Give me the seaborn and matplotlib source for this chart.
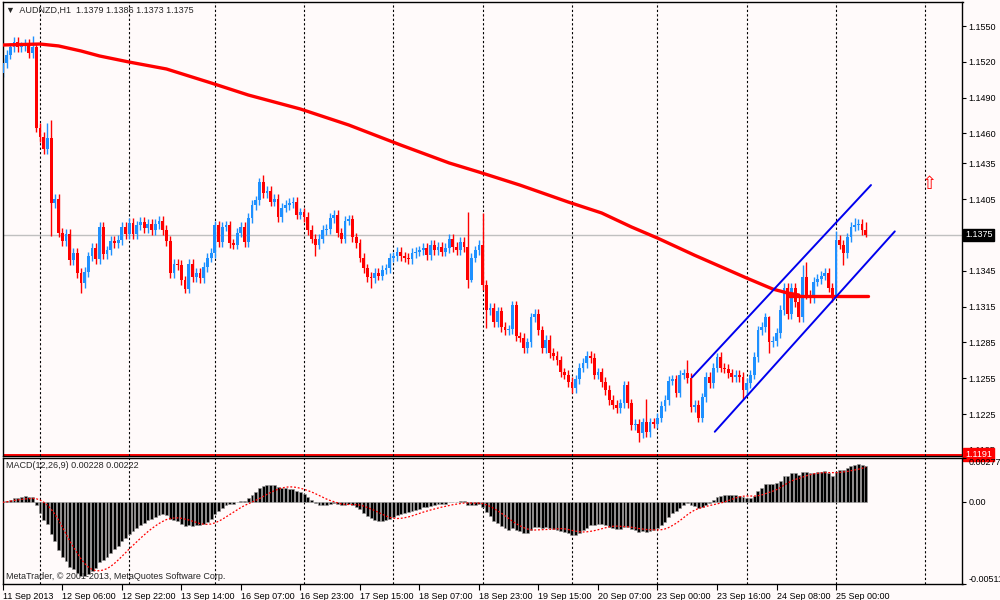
import numpy as np
import pandas as pd
import matplotlib
matplotlib.use("Agg")
import matplotlib.pyplot as plt
import matplotlib.transforms as mtransforms
import seaborn as sns

# hourly closes AUDNZD
closes = [
    1.1519, 1.1526, 1.1532, 1.1537, 1.1532, 1.1533, 1.1535, 1.1527, 1.1532, 1.1465,
    1.1457, 1.1447, 1.1456, 1.1402, 1.1405, 1.1377, 1.1370, 1.1376, 1.1354, 1.1360,
    1.1343, 1.1335, 1.1344, 1.1357, 1.1364, 1.1355, 1.1382, 1.1359, 1.1362, 1.1370,
    1.1368, 1.1371, 1.1382, 1.1376, 1.1385, 1.1376, 1.1383, 1.1386, 1.1381, 1.1384,
    1.1379, 1.1384, 1.1387, 1.1379, 1.1370, 1.1343, 1.1351, 1.1350, 1.1337, 1.1330,
    1.1351, 1.1340, 1.1343, 1.1339, 1.1348, 1.1356, 1.1360, 1.1383, 1.1369, 1.1382,
    1.1383, 1.1368, 1.1367, 1.1377, 1.1382, 1.1369, 1.1389, 1.1400, 1.1404, 1.1419,
    1.1410, 1.1412, 1.1403, 1.1405, 1.1390, 1.1398, 1.1400, 1.1402, 1.1403, 1.1392,
    1.1394, 1.1390, 1.1379, 1.1372, 1.1367, 1.1372, 1.1379, 1.1380, 1.1389, 1.1392,
    1.1377, 1.1372, 1.1387, 1.1388, 1.1373, 1.1368, 1.1356, 1.1347, 1.1340, 1.1339,
    1.1343, 1.1341, 1.1346, 1.1347, 1.1356, 1.1357, 1.1361, 1.1357, 1.1356, 1.1355,
    1.1360, 1.1361, 1.1362, 1.1364, 1.1358, 1.1367, 1.1362, 1.1365, 1.1361, 1.1364,
    1.1372, 1.1365, 1.1362, 1.1369, 1.1365, 1.1337, 1.1356, 1.1362, 1.1367, 1.1333,
    1.1312, 1.1314, 1.1302, 1.1311, 1.1298, 1.1295, 1.1296, 1.1316, 1.1290, 1.1289,
    1.1280, 1.1285, 1.1306, 1.1309, 1.1295, 1.1280, 1.1287, 1.1276, 1.1274, 1.1270,
    1.1260, 1.1258, 1.1252, 1.1247, 1.1254, 1.1264, 1.1268, 1.1274, 1.1272, 1.1258,
    1.1260, 1.1252, 1.1245, 1.1237, 1.1233, 1.1230, 1.1234, 1.1249, 1.1234, 1.1216,
    1.1217, 1.1209, 1.1218, 1.1210, 1.1218, 1.1217, 1.1222, 1.1232, 1.1237, 1.1253,
    1.1254, 1.1243, 1.1258, 1.1259, 1.1255, 1.1231, 1.1233, 1.1222, 1.1239, 1.1256,
    1.1251, 1.1264, 1.1273, 1.1264, 1.1263, 1.1259, 1.1256, 1.1258, 1.1256, 1.1245,
    1.1251, 1.1258, 1.1273, 1.1295, 1.1298, 1.1306, 1.1285, 1.1286, 1.1293, 1.1312,
    1.1331, 1.1309, 1.1331, 1.1319, 1.1306, 1.1340, 1.1325, 1.1322, 1.1336, 1.1338,
    1.1341, 1.1343, 1.1331, 1.1323, 1.1371, 1.1367, 1.1360, 1.1373, 1.1382, 1.1383,
    1.1384, 1.1379, 1.1375,
]
first_open = 1.1511
wick = 0.0004  # usual wick size where nothing special is visible
high_wicks = {8: 1.1542, 12: 1.1469, 13: 1.1471, 70: 1.1425, 125: 1.1394, 129: 1.1393,
              173: 1.1238, 184: 1.1270, 192: 1.1276, 206: 1.1307, 215: 1.1350, 216: 1.1352,
              224: 1.1378, 229: 1.1389, 232: 1.1386}
low_wicks = {13: 1.1374, 21: 1.1326, 49: 1.1326, 84: 1.1357, 99: 1.1331, 125: 1.1331,
             126: 1.1336, 130: 1.1297, 171: 1.1202, 199: 1.1238, 206: 1.1276, 224: 1.1323,
             226: 1.1350, 232: 1.1373}

# 200 period MA (red), sampled
ma_bars = [0, 10, 15, 21, 26, 34, 44, 56, 66, 80, 93, 107, 120, 128, 139, 152, 161, 169,
           176, 186, 200, 207, 211, 214]
ma_values = [1.15341, 1.15349, 1.15333, 1.15291, 1.15249, 1.15198, 1.15140, 1.15023, 1.14922,
             1.14805, 1.14671, 1.14503, 1.14353, 1.14277, 1.14168, 1.14026, 1.13934, 1.13817,
             1.13724, 1.13580, 1.13389, 1.13297, 1.13264, 1.13247]

# drawn objects
level_bars = [211, 232.5]
level_values = [1.1324, 1.1324]
upper_bars = [185.3, 233.4]
upper_values = [1.12558, 1.14168]
lower_bars = [191.4, 239.8]
lower_values = [1.12102, 1.13780]
arrow_bar, arrow_price = 249.0, 1.14175

day_bars = [10, 34, 57, 81, 105, 129, 153, 176, 200, 224, 248]
time_bars = list(range(0, 225, 16))
time_labels = ["11 Sep 2013", "12 Sep 06:00", "12 Sep 22:00", "13 Sep 14:00", "16 Sep 07:00",
               "16 Sep 23:00", "17 Sep 15:00", "18 Sep 07:00", "18 Sep 23:00", "19 Sep 15:00",
               "20 Sep 07:00", "23 Sep 00:00", "23 Sep 16:00", "24 Sep 08:00", "25 Sep 00:00"]
price_ticks = [1.1550, 1.1520, 1.1490, 1.1460, 1.1435, 1.1405, 1.1345, 1.1315, 1.1285,
               1.1255, 1.1225, 1.1195]
last_price = 1.1375
low_line = 1.1191
macd_ticks = [0.00277, 0.0, -0.00511]
macd_labels = ["0.00277", "0.00", "-0.00511"]

BG = "#FFFAFA"
BLUE = "#1E90FF"
RED = "#FF0000"

sns.set_style("white")
plt.rcParams["font.family"] = ["Liberation Sans", "DejaVu Sans"]
plt.rcParams["font.size"] = 6.5

df = pd.DataFrame({"bar": np.arange(len(closes)), "close": closes})
df["open"] = [first_open] + closes[:-1]
df["top"] = df[["open", "close"]].max(axis=1)
df["bottom"] = df[["open", "close"]].min(axis=1)
df["high"] = df["top"] + wick
df["low"] = df["bottom"] - wick
df.loc[list(high_wicks), "high"] = list(high_wicks.values())
df.loc[list(low_wicks), "low"] = list(low_wicks.values())
df["high"] = df[["high", "top"]].max(axis=1)
df["low"] = df[["low", "bottom"]].min(axis=1)
colors = np.where(df["close"] >= df["open"], BLUE, RED)

ema_fast = df["close"].ewm(span=12, adjust=False).mean()
ema_slow = df["close"].ewm(span=26, adjust=False).mean()
df["macd"] = ema_fast - ema_slow
df["signal"] = df["macd"].rolling(9, min_periods=1).mean()

fig = plt.figure(figsize=(10, 6), dpi=100, facecolor=BG)
ax = fig.add_axes([2.5 / 1000, 1 - 456 / 600, 960 / 1000, 454 / 600], facecolor=BG)
ax2 = fig.add_axes([2.5 / 1000, 1 - 584 / 600, 960 / 1000, 126 / 600], facecolor=BG)

# candles
ax.axhline(last_price, color="#C0C0C0", lw=1, zorder=0.8)
ax.axhline(low_line, color=RED, lw=1.4, zorder=0.8)
ax.vlines(df["bar"], df["low"], df["high"], colors=colors, lw=1, zorder=2)
ax.bar(df["bar"], np.maximum(df["top"] - df["bottom"], 0.00009), bottom=df["bottom"],
       width=0.75, color=colors, linewidth=0, zorder=3)

sns.lineplot(x=ma_bars, y=ma_values, ax=ax, color=RED, lw=2.4, zorder=4)
sns.lineplot(x=level_bars, y=level_values, ax=ax, color=RED, lw=2.4, zorder=4)
sns.lineplot(x=upper_bars, y=upper_values, ax=ax, color="#0000EE", lw=1.4, zorder=5)
sns.lineplot(x=lower_bars, y=lower_values, ax=ax, color="#0000EE", lw=1.4, zorder=5)
ax.text(arrow_bar, arrow_price, "\u21e7", color=RED, fontsize=13, ha="center", va="center",
        family=["DejaVu Sans"], zorder=6)

# macd
ax2.bar(df["bar"], df["macd"], width=0.78, color="black", edgecolor="#9A9A9A",
        linewidth=0.4, zorder=2)
sns.lineplot(x=df["bar"], y=df["signal"], ax=ax2, color=RED, lw=0.9,
             linestyle=(0, (1.5, 1.5)), zorder=3)

for a in (ax, ax2):
    for b in day_bars:
        a.axvline(b, color="black", lw=0.8, ls=(0, (2, 2)), zorder=1)
    a.set_xlim(-0.08, 258)
    a.set_xlabel("")
    a.set_ylabel("")
    for sp in a.spines.values():
        sp.set_color("black")
        sp.set_linewidth(1)
    a.yaxis.tick_right()
    a.tick_params(axis="y", direction="out", length=3, width=0.8, pad=1.5,
                  labelsize=6.5, colors="black", left=False, right=True)

ax.set_ylim(1.11899, 1.15701)
ax.set_yticks(price_ticks)
ax.set_yticklabels([f"{v:.4f}" for v in price_ticks])
ax.set_xticks([])

ax2.set_ylim(-0.00511, 0.00277)
ax2.set_yticks(macd_ticks)
ax2.set_yticklabels(macd_labels)
for lab, va in zip(ax2.get_yticklabels(), ["top", "center", "bottom"]):
    lab.set_verticalalignment(va)
ax2.set_xticks(time_bars)
ax2.set_xticklabels(time_labels, ha="left")
ax2.tick_params(axis="x", direction="out", length=4, width=0.8, pad=1.5,
                labelsize=6.5, colors="black", bottom=True)

# texts
ax.text(0.0036, 0.982, "\u25bc  AUDNZD,H1  1.1379 1.1386 1.1373 1.1375", transform=ax.transAxes,
        va="center", ha="left", fontsize=6.5)
ax2.text(0.0036, 0.937, "MACD(12,26,9) 0.00228 0.00222", transform=ax2.transAxes,
         va="center", ha="left", fontsize=6.5, zorder=5)
ax2.text(0.0036, 0.063, "MetaTrader, \u00a9 2001-2013, MetaQuotes Software Corp.",
         transform=ax2.transAxes, va="center", ha="left", fontsize=6.5, zorder=0.5)

trans = mtransforms.blended_transform_factory(ax.transAxes, ax.transData)
ax.text(1.0026, last_price, f"{last_price:.4f}", transform=trans, color="white",
        fontsize=6.5, va="center", ha="left", clip_on=False, zorder=10,
        bbox=dict(boxstyle="square,pad=0.2", fc="black", ec="black"))
ax.text(1.0026, low_line + 0.00003, f"{low_line:.4f}", transform=trans, color="white",
        fontsize=6.5, va="center", ha="left", clip_on=False, zorder=10,
        bbox=dict(boxstyle="square,pad=0.2", fc=RED, ec=RED))

fig.savefig("out.png", dpi=100, facecolor=BG)
